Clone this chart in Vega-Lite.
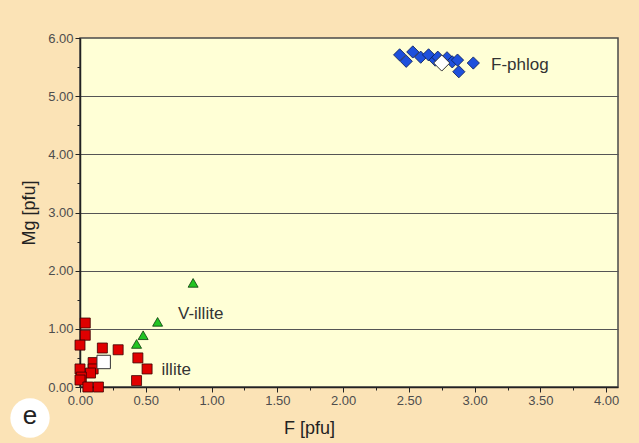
{
  "$schema": "https://vega.github.io/schema/vega-lite/v6.json",
  "width": 538,
  "height": 349,
  "autosize": {"type": "none"},
  "padding": {"left": 80, "top": 38, "right": 21, "bottom": 56},
  "background": "#FBE3B6",
  "config": {
    "view": {"fill": "#FFFFD6", "stroke": "#4a4a4a", "strokeWidth": 1.5},
    "font": "Liberation Sans"
  },
  "datasets": {
    "pts": [
      {"group": "phlog", "F": 2.43, "Mg": 5.71},
      {"group": "phlog", "F": 2.48, "Mg": 5.60},
      {"group": "phlog", "F": 2.53, "Mg": 5.76},
      {"group": "phlog", "F": 2.59, "Mg": 5.67},
      {"group": "phlog", "F": 2.65, "Mg": 5.71},
      {"group": "phlog", "F": 2.70, "Mg": 5.62},
      {"group": "phlog", "F": 2.72, "Mg": 5.67},
      {"group": "phlog", "F": 2.79, "Mg": 5.66},
      {"group": "phlog", "F": 2.83, "Mg": 5.59},
      {"group": "phlog", "F": 2.87, "Mg": 5.62},
      {"group": "phlog", "F": 2.88, "Mg": 5.42},
      {"group": "phlog", "F": 2.99, "Mg": 5.57},
      {"group": "villite", "F": 0.86, "Mg": 1.79},
      {"group": "villite", "F": 0.59, "Mg": 1.12},
      {"group": "villite", "F": 0.48, "Mg": 0.89},
      {"group": "villite", "F": 0.43, "Mg": 0.74},
      {"group": "illite", "F": 0.04, "Mg": 1.10},
      {"group": "illite", "F": 0.04, "Mg": 0.89},
      {"group": "illite", "F": 0.00, "Mg": 0.72},
      {"group": "illite", "F": 0.17, "Mg": 0.67},
      {"group": "illite", "F": 0.29, "Mg": 0.64},
      {"group": "illite", "F": 0.10, "Mg": 0.42},
      {"group": "illite", "F": 0.10, "Mg": 0.31},
      {"group": "illite", "F": 0.08, "Mg": 0.24},
      {"group": "illite", "F": 0.00, "Mg": 0.31},
      {"group": "illite", "F": 0.01, "Mg": 0.17},
      {"group": "illite", "F": 0.00, "Mg": 0.12},
      {"group": "illite", "F": 0.06, "Mg": 0.00},
      {"group": "illite", "F": 0.14, "Mg": 0.00},
      {"group": "illite", "F": 0.44, "Mg": 0.50},
      {"group": "illite", "F": 0.51, "Mg": 0.31},
      {"group": "illite", "F": 0.43, "Mg": 0.11},
      {"group": "illite_mean", "F": 0.18, "Mg": 0.43},
      {"group": "phlog_mean", "F": 2.75, "Mg": 5.57}
    ],
    "labels": [
      {"label": "F-phlog", "F": 3.125, "Mg": 5.535},
      {"label": "V-illite", "F": 0.745, "Mg": 1.25},
      {"label": "illite", "F": 0.62, "Mg": 0.29}
    ],
    "panel": [{"panel": "e", "F": -0.38, "Mg": -0.533}]
  },
  "encoding": {
    "x": {
      "field": "F", "type": "quantitative",
      "scale": {"domain": [0, 4.09], "nice": false, "zero": false},
      "axis": {
        "title": "F [pfu]",
        "values": [0, 0.25, 0.5, 0.75, 1, 1.25, 1.5, 1.75, 2, 2.25, 2.5, 2.75, 3, 3.25, 3.5, 3.75, 4],
        "labelExpr": "(datum.value * 2) % 1 == 0 ? format(datum.value, '.2f') : ''",
        "labelFlush": false,
        "grid": false,
        "domainColor": "#222", "domainWidth": 1.5,
        "tickColor": "#222",
        "tickSize": {"condition": {"test": "(datum.value * 2) % 1 == 0", "value": 5}, "value": 3},
        "labelColor": "#4d4d4d", "labelFont": "Liberation Sans", "labelFontSize": 13,
        "labelPadding": 2,
        "titleFont": "Liberation Sans", "titleFontSize": 18, "titleFontWeight": "normal",
        "titleColor": "#222", "titleX": 229, "titlePadding": 12
      }
    },
    "y": {
      "field": "Mg", "type": "quantitative",
      "scale": {"domain": [0, 6], "nice": false},
      "axis": {
        "title": "Mg [pfu]",
        "values": [0, 0.5, 1, 1.5, 2, 2.5, 3, 3.5, 4, 4.5, 5, 5.5, 6],
        "labelExpr": "datum.value % 1 == 0 ? format(datum.value, '.2f') : ''",
        "labelFlush": false,
        "grid": true,
        "gridColor": "#555",
        "gridWidth": 1,
        "gridOpacity": {"condition": {"test": "datum.value % 1 == 0 && datum.value > 0 && datum.value < 6", "value": 1}, "value": 0},
        "domainColor": "#222", "domainWidth": 1.5,
        "tickColor": "#222",
        "tickSize": {"condition": {"test": "datum.value % 1 == 0", "value": 5}, "value": 3},
        "labelColor": "#4d4d4d", "labelFont": "Liberation Sans", "labelFontSize": 13,
        "labelPadding": 2,
        "titleFont": "Liberation Sans", "titleFontSize": 18, "titleFontWeight": "normal",
        "titleColor": "#222", "titlePadding": 9
      }
    }
  },
  "layer": [
    {
      "data": {"name": "panel"},
      "mark": {"type": "point", "shape": "circle", "filled": true, "fill": "#ffffff", "size": 1550, "opacity": 1, "strokeWidth": 0, "clip": false}
    },
    {
      "data": {"name": "panel"},
      "mark": {"type": "text", "fontSize": 26, "color": "#222", "font": "Liberation Sans", "baseline": "middle", "align": "center", "dy": -2, "clip": false},
      "encoding": {"text": {"field": "panel", "type": "nominal"}}
    },
    {
      "data": {"name": "pts"},
      "transform": [{"filter": "datum.group == 'illite'"}],
      "mark": {"type": "point", "shape": "square", "filled": true, "fill": "#E00000", "stroke": "#3a0000", "strokeWidth": 0.8, "size": 100, "opacity": 1}
    },
    {
      "data": {"name": "pts"},
      "transform": [{"filter": "datum.group == 'villite'"}],
      "mark": {"type": "point", "shape": "triangle-up", "filled": true, "fill": "#22C422", "stroke": "#0a3a0a", "strokeWidth": 0.8, "size": 100, "opacity": 1}
    },
    {
      "data": {"name": "pts"},
      "transform": [{"filter": "datum.group == 'phlog'"}],
      "mark": {"type": "point", "shape": "diamond", "filled": true, "fill": "#1E50DC", "stroke": "#0a1a50", "strokeWidth": 0.8, "size": 150, "opacity": 1}
    },
    {
      "data": {"name": "pts"},
      "transform": [{"filter": "datum.group == 'illite_mean'"}],
      "mark": {"type": "point", "shape": "square", "filled": true, "fill": "#ffffff", "stroke": "#333", "strokeWidth": 1, "size": 180, "opacity": 1}
    },
    {
      "data": {"name": "pts"},
      "transform": [{"filter": "datum.group == 'phlog_mean'"}],
      "mark": {"type": "point", "shape": "diamond", "filled": true, "fill": "#ffffff", "stroke": "#333", "strokeWidth": 1, "size": 260, "opacity": 1}
    },
    {
      "data": {"name": "labels"},
      "mark": {"type": "text", "align": "left", "baseline": "middle", "fontSize": 17, "color": "#333", "font": "Liberation Sans"},
      "encoding": {"text": {"field": "label", "type": "nominal"}}
    }
  ]
}
